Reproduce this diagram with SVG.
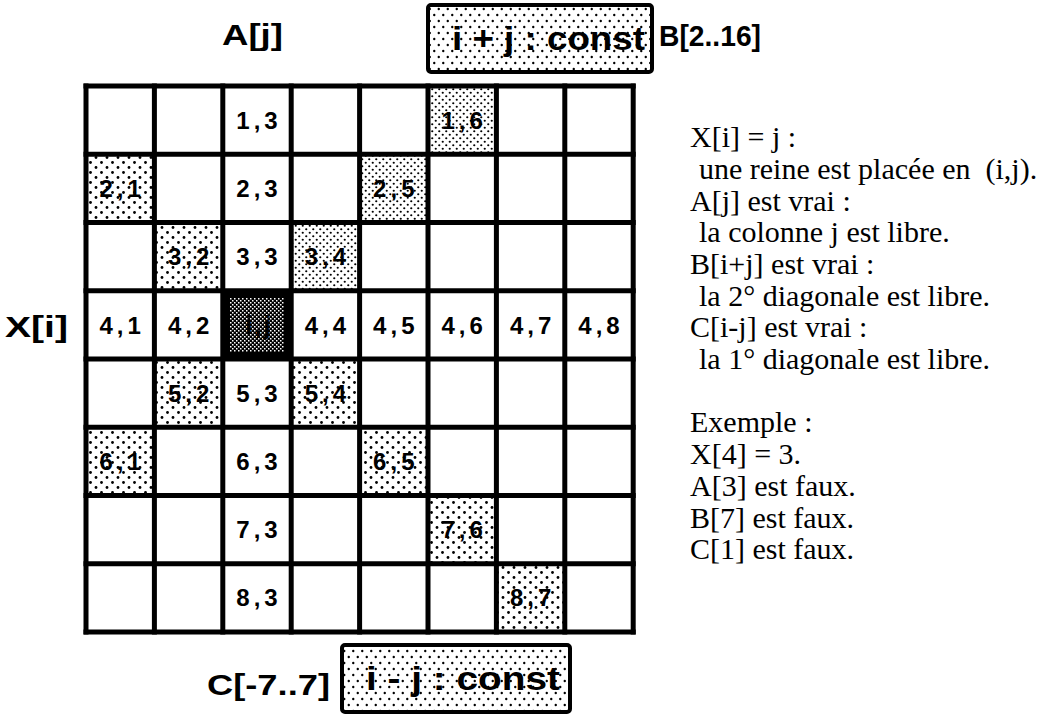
<svg xmlns="http://www.w3.org/2000/svg" width="1062" height="718" viewBox="0 0 1062 718">
<defs>
<pattern id="dots" width="11" height="10" patternUnits="userSpaceOnUse"><rect width="11" height="10" fill="#fff"/><circle cx="2.5" cy="2.5" r="1.4" fill="#000"/><circle cx="8" cy="7.5" r="1.4" fill="#000"/></pattern>
<pattern id="dense" width="7" height="7" patternUnits="userSpaceOnUse"><rect width="7" height="7" fill="#fff"/><circle cx="1.75" cy="1.75" r="1.1" fill="#000"/><circle cx="5.25" cy="5.25" r="1.1" fill="#000"/></pattern>
<pattern id="banner" width="9" height="12" patternUnits="userSpaceOnUse"><rect width="9" height="12" fill="#fff"/><circle cx="2.25" cy="3" r="1.2" fill="#000"/><circle cx="6.75" cy="9" r="1.2" fill="#000"/></pattern>
<pattern id="dark" width="4" height="4" patternUnits="userSpaceOnUse"><rect width="4" height="4" fill="#000"/><rect x="0" y="0" width="1.5" height="1.5" fill="#fff"/><rect x="2" y="2" width="1.5" height="1.5" fill="#fff"/></pattern>
</defs>
<style>
.cell{font-family:"Liberation Sans",Arial,sans-serif;font-weight:bold;font-size:24px;letter-spacing:4px;text-anchor:middle;fill:#000}
.lbl{font-family:"Liberation Sans",Arial,sans-serif;font-weight:bold;font-size:29px;fill:#000}
.box{fill:url(#banner);stroke:#000;stroke-width:4}
.boxt{font-family:"Liberation Sans",Arial,sans-serif;font-weight:bold;font-size:34px;fill:#000}
.desc{font-family:"Liberation Serif","Times New Roman",serif;font-size:30px;fill:#000}
.grid line{stroke:#000;stroke-width:5}
</style>
<rect width="1062" height="718" fill="#fff"/>

<g id="label-A"><text class="lbl" x="222" y="45" textLength="61" lengthAdjust="spacingAndGlyphs">A[j]</text></g>
<g id="box-B"><rect class="box" x="428" y="5" width="224" height="67" rx="3"/><text class="boxt" x="452" y="50" textLength="193" lengthAdjust="spacingAndGlyphs">i + j : const</text></g>
<g id="label-B"><text class="lbl" x="659" y="46" textLength="102" lengthAdjust="spacingAndGlyphs">B[2..16]</text></g>
<g id="label-X"><text class="lbl" x="5" y="337" textLength="63" lengthAdjust="spacingAndGlyphs">X[i]</text></g>
<g id="label-C"><text class="lbl" x="207" y="695" textLength="123" lengthAdjust="spacingAndGlyphs">C[-7..7]</text></g>
<g id="box-C"><rect class="box" x="342" y="645" width="228" height="67" rx="3"/><text class="boxt" x="366" y="690" textLength="194" lengthAdjust="spacingAndGlyphs">i - j : const</text></g>

<g id="c1-3"><text class="cell" x="259" y="129">1,3</text></g>
<g id="c1-6"><rect x="428" y="86" width="68.4" height="68.25" fill="url(#dense)"/><text class="cell" x="464.2" y="129">1,6</text></g>
<g id="c2-1"><rect x="86" y="154.25" width="68.4" height="68.25" fill="url(#dots)"/><text class="cell" x="122.2" y="197">2,1</text></g>
<g id="c2-3"><text class="cell" x="259" y="197">2,3</text></g>
<g id="c2-5"><rect x="359.6" y="154.25" width="68.4" height="68.25" fill="url(#dense)"/><text class="cell" x="395.8" y="197">2,5</text></g>
<g id="c3-2"><rect x="154.4" y="222.5" width="68.4" height="68.25" fill="url(#dots)"/><text class="cell" x="190.6" y="265">3,2</text></g>
<g id="c3-3"><text class="cell" x="259" y="265">3,3</text></g>
<g id="c3-4"><rect x="291.2" y="222.5" width="68.4" height="68.25" fill="url(#dense)"/><text class="cell" x="327.4" y="265">3,4</text></g>
<g id="c4-1"><text class="cell" x="122.2" y="334">4,1</text></g>
<g id="c4-2"><text class="cell" x="190.6" y="334">4,2</text></g>
<g id="c4-3"><rect x="222.8" y="290.75" width="68.4" height="68.25" fill="#000"/><rect x="230" y="298" width="54" height="54" fill="url(#dark)"/><text class="cell" x="259" y="334" style="letter-spacing:2px;font-size:26px">i,j</text></g>
<g id="c4-4"><text class="cell" x="327.4" y="334">4,4</text></g>
<g id="c4-5"><text class="cell" x="395.8" y="334">4,5</text></g>
<g id="c4-6"><text class="cell" x="464.2" y="334">4,6</text></g>
<g id="c4-7"><text class="cell" x="532.6" y="334">4,7</text></g>
<g id="c4-8"><text class="cell" x="601" y="334">4,8</text></g>
<g id="c5-2"><rect x="154.4" y="359" width="68.4" height="68.25" fill="url(#dots)"/><text class="cell" x="190.6" y="402">5,2</text></g>
<g id="c5-3"><text class="cell" x="259" y="402">5,3</text></g>
<g id="c5-4"><rect x="291.2" y="359" width="68.4" height="68.25" fill="url(#dots)"/><text class="cell" x="327.4" y="402">5,4</text></g>
<g id="c6-1"><rect x="86" y="427.25" width="68.4" height="68.25" fill="url(#dots)"/><text class="cell" x="122.2" y="470">6,1</text></g>
<g id="c6-3"><text class="cell" x="259" y="470">6,3</text></g>
<g id="c6-5"><rect x="359.6" y="427.25" width="68.4" height="68.25" fill="url(#dots)"/><text class="cell" x="395.8" y="470">6,5</text></g>
<g id="c7-3"><text class="cell" x="259" y="538">7,3</text></g>
<g id="c7-6"><rect x="428" y="495.5" width="68.4" height="68.25" fill="url(#dots)"/><text class="cell" x="464.2" y="538">7,6</text></g>
<g id="c8-3"><text class="cell" x="259" y="606">8,3</text></g>
<g id="c8-7"><rect x="496.4" y="563.75" width="68.4" height="68.25" fill="url(#dots)"/><text class="cell" x="532.6" y="606">8,7</text></g>

<g id="grid" class="grid">
<line x1="86" y1="83.5" x2="86" y2="634.5"/><line x1="154.4" y1="83.5" x2="154.4" y2="634.5"/><line x1="222.8" y1="83.5" x2="222.8" y2="634.5"/><line x1="291.2" y1="83.5" x2="291.2" y2="634.5"/><line x1="359.6" y1="83.5" x2="359.6" y2="634.5"/><line x1="428" y1="83.5" x2="428" y2="634.5"/><line x1="496.4" y1="83.5" x2="496.4" y2="634.5"/><line x1="564.8" y1="83.5" x2="564.8" y2="634.5"/><line x1="633.2" y1="83.5" x2="633.2" y2="634.5"/>
<line x1="83.5" y1="86" x2="635.7" y2="86"/><line x1="83.5" y1="154.25" x2="635.7" y2="154.25"/><line x1="83.5" y1="222.5" x2="635.7" y2="222.5"/><line x1="83.5" y1="290.75" x2="635.7" y2="290.75"/><line x1="83.5" y1="359" x2="635.7" y2="359"/><line x1="83.5" y1="427.25" x2="635.7" y2="427.25"/><line x1="83.5" y1="495.5" x2="635.7" y2="495.5"/><line x1="83.5" y1="563.75" x2="635.7" y2="563.75"/><line x1="83.5" y1="632" x2="635.7" y2="632"/>
</g>

<g id="legend" class="desc">
<text x="690" y="147">X[i] = j :</text>
<text x="699" y="179" xml:space="preserve">une reine est placée en  (i,j).</text>
<text x="690" y="211">A[j] est vrai :</text>
<text x="699" y="242">la colonne j est libre.</text>
<text x="690" y="274">B[i+j] est vrai :</text>
<text x="699" y="306">la 2° diagonale est libre.</text>
<text x="690" y="337">C[i-j] est vrai :</text>
<text x="699" y="369">la 1° diagonale est libre.</text>
<text x="690" y="432">Exemple :</text>
<text x="690" y="464">X[4] = 3.</text>
<text x="690" y="496">A[3] est faux.</text>
<text x="690" y="528">B[7] est faux.</text>
<text x="690" y="559">C[1] est faux.</text>
</g>
</svg>
